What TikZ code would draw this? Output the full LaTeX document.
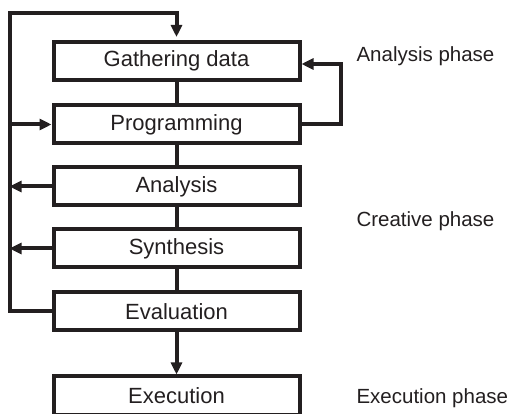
\documentclass[tikz,border=0pt]{standalone}
\usepackage{fontspec}
\setmainfont{Liberation Sans}
\usetikzlibrary{arrows.meta}
\definecolor{ink}{HTML}{231F20}

\begin{document}
\begin{tikzpicture}[x=1pt,y=-1pt,>={Triangle[length=12pt,width=11pt]},stage/.style={draw=ink,line width=4pt,minimum width=246pt,minimum height=38pt,inner sep=0pt,text=ink,font=\fontsize{22}{26}\selectfont},phase/.style={anchor=base west,text=ink,font=\fontsize{20.5}{25}\selectfont},link/.style={draw=ink,line width=4pt}]
  \useasboundingbox (0,0) rectangle (512,414);
  \node[stage] (gath) at (176.5,61) {Gathering data};
  \node[stage] (prog) at (176.5,124.5) {Programming};
  \node[stage] (ana) at (176.5,186.5) {Analysis};
  \node[stage] (syn) at (176.5,248.5) {Synthesis};
  \node[stage] (eval) at (176.5,311.5) {Evaluation};
  \node[stage] (exec) at (176.5,395.5) {Execution};
  \node[phase] (pana) at (353,61.7) {Analysis phase};
  \node[phase] (pcre) at (353,227) {Creative phase};
  \node[phase] (pexe) at (353,403.7) {Execution phase};
  \coordinate (lt) at (9.5,13.3);
  \coordinate (rt) at (340.5,64);
  \draw[link] (gath) -- (prog);
  \draw[link] (prog) -- (ana);
  \draw[link] (ana) -- (syn);
  \draw[link] (syn) -- (eval);
  \draw[link,->] (eval) -- (exec);
  \draw[link,->,shorten >=3pt] (eval.west) -| (lt) -| (gath.north);
  \draw[link,->] (lt |- prog) -- (prog.west);
  \draw[link,->] (ana.west) -- (lt |- ana);
  \draw[link,->] (syn.west) -- (lt |- syn);
  \draw[link,->] (prog.east) -| (rt) -- (gath.east |- rt);
\end{tikzpicture}
\end{document}
